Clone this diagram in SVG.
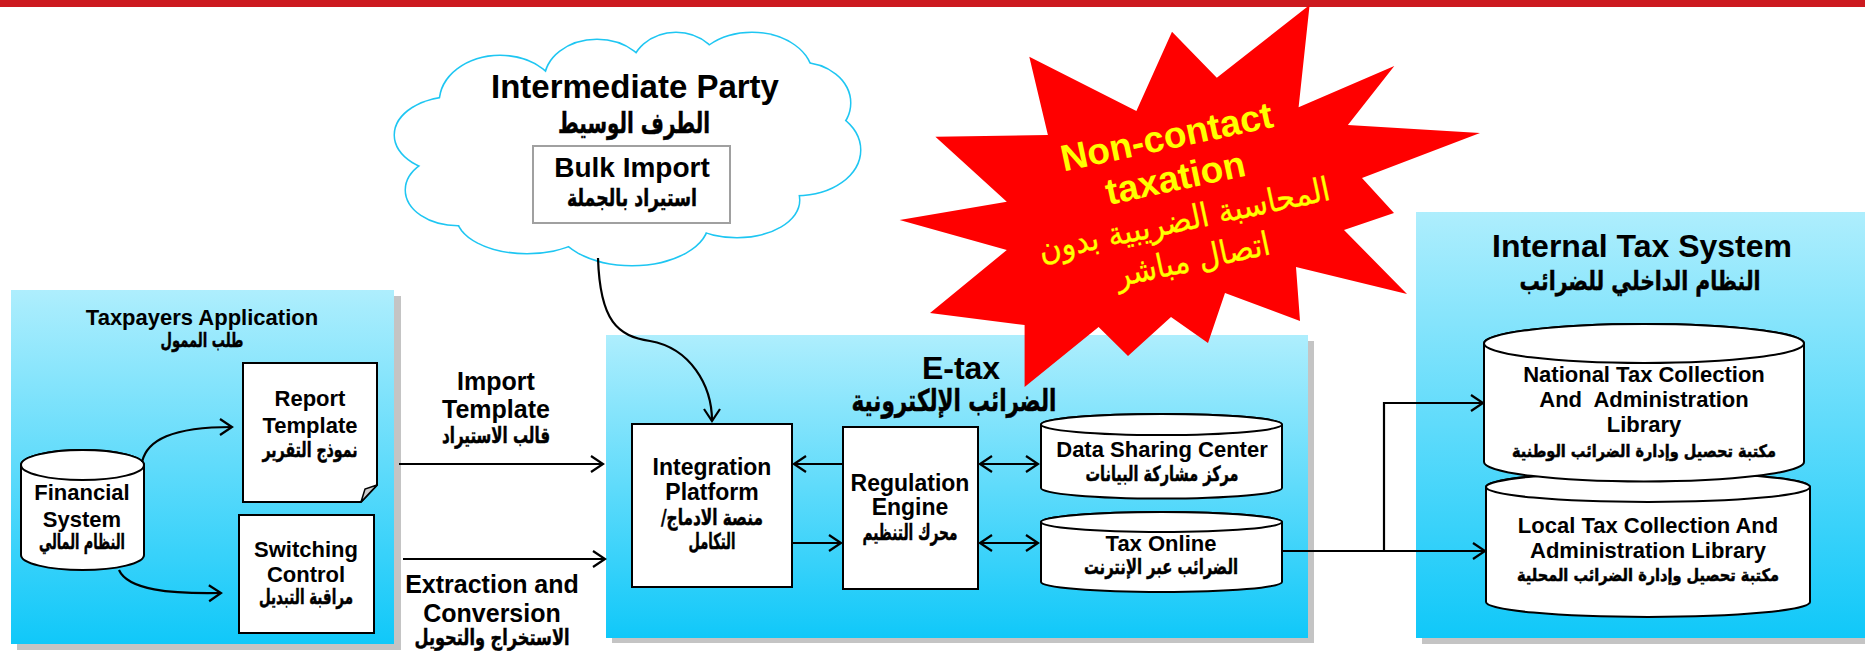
<svg xmlns="http://www.w3.org/2000/svg" width="1865" height="657" viewBox="0 0 1865 657">
<defs>
<linearGradient id="panelGrad" x1="0" y1="0" x2="0" y2="1">
<stop offset="0" stop-color="#AEEEFD"/>
<stop offset="1" stop-color="#10C8F9"/>
</linearGradient>
<marker id="arr" markerUnits="userSpaceOnUse" markerWidth="16" markerHeight="20" viewBox="0 0 16 20" refX="14" refY="10" orient="auto-start-reverse">
<path d="M2,2 L14,10 L2,18" fill="none" stroke="#000" stroke-width="2.2"/>
</marker>
</defs>
<style>
.en{font-family:"Liberation Sans",Arial,sans-serif;font-weight:bold;text-anchor:middle;fill:#000}
.ar{font-family:"DejaVu Sans","Noto Sans",sans-serif;font-weight:bold;text-anchor:middle;fill:#000;stroke:#000;stroke-width:0.5}
.ys{fill:#FFFF00;stroke:#FFFF00;stroke-width:0.3;font-weight:normal}
.panel{fill:url(#panelGrad)}
.shadow{fill:#C4C4C4}
.box{fill:#fff;stroke:#000;stroke-width:2}
.conn{fill:none;stroke:#000;stroke-width:2.2;marker-end:url(#arr)}
.both{marker-start:url(#arr)}
.cl{fill:none;stroke:#1EC6F2;stroke-width:3}
.cf{fill:#fff}
</style>
<rect x="0" y="0" width="1865" height="7" fill="#CC1A1F"/>

<g id="taxpayers">
<rect class="shadow" x="17" y="296" width="384" height="354"/>
<rect class="panel" x="11" y="290" width="383" height="354"/>
<text class="en" x="202" y="325" font-size="22">Taxpayers Application</text>
<text class="ar" x="202" y="347" font-size="20" textLength="83" lengthAdjust="spacingAndGlyphs">طلب الممول</text>
</g>

<g id="report-template">
<path class="box" d="M243,363 H377 V485 L361,502 H243 Z"/>
<path d="M377,485 L365,489 L361,502 Z" fill="#CCCCCC" stroke="#000" stroke-width="1.5"/>
<text class="en" x="310" y="406" font-size="22">Report</text>
<text class="en" x="310" y="433" font-size="22">Template</text>
<text class="ar" x="310" y="457" font-size="21" textLength="95" lengthAdjust="spacingAndGlyphs">نموذج التقرير</text>
</g>

<g id="switching-control">
<rect class="box" x="239" y="515" width="135" height="118"/>
<text class="en" x="306" y="557" font-size="22">Switching</text>
<text class="en" x="306" y="582" font-size="22">Control</text>
<text class="ar" x="306" y="604" font-size="21" textLength="94" lengthAdjust="spacingAndGlyphs">مراقبة التبديل</text>
</g>

<g id="financial-system">
<path class="box" d="M21,465 V555 A61.5,15 0 0 0 144,555 V465 A61.5,15 0 0 0 21,465 Z"/>
<ellipse class="box" cx="82.5" cy="465" rx="61.5" ry="15"/>
<text class="en" x="82" y="500" font-size="22">Financial</text>
<text class="en" x="82" y="527" font-size="22">System</text>
<text class="ar" x="82" y="549" font-size="21" textLength="86" lengthAdjust="spacingAndGlyphs">النظام المالي</text>
</g>

<g id="etax">
<rect class="shadow" x="612" y="341" width="702" height="302"/>
<rect class="panel" x="606" y="335" width="702" height="303"/>
<text class="en" x="961" y="379" font-size="32">E-tax</text>
<text class="ar" x="954" y="411" font-size="30" textLength="205" lengthAdjust="spacingAndGlyphs">الضرائب الإلكترونية</text>
</g>

<g id="internal-tax-system">
<rect class="shadow" x="1422" y="218" width="443" height="426"/>
<rect class="panel" x="1416" y="212" width="449" height="426"/>
<text class="en" x="1642" y="257" font-size="32">Internal Tax System</text>
<text class="ar" x="1640" y="290" font-size="26" textLength="241" lengthAdjust="spacingAndGlyphs">النظام الداخلي للضرائب</text>
</g>

<g id="star">
<polygon fill="#FF0000" points="1309.6,5 1298.6,107.3 1394.3,66 1347.9,125 1480,133 1362,178 1394,213 1344,230 1407,294 1296,267 1300,321 1225,293 1208,343 1171,317 1128,356 1098.6,327 1024.6,387 1024.6,325 930,313 1006.8,250 899.6,220 1006.8,201.7 935.4,136.7 1047.9,135 1029.3,56.7 1136.4,111 1172,31.7 1216.8,77.7"/>
<g transform="translate(1180,200) rotate(-12)">
<text class="en" x="0" y="-52" font-size="37" style="fill:#FFFF00">Non-contact</text>
<text class="en" x="0" y="-10" font-size="37" style="fill:#FFFF00">taxation</text>
<text class="ar ys" x="0" y="31" font-size="33" textLength="297" lengthAdjust="spacingAndGlyphs">المحاسبة الضريبية بدون</text>
<text class="ar ys" x="0" y="72" font-size="33" textLength="157" lengthAdjust="spacingAndGlyphs">اتصال مباشر</text>
</g>
</g>

<g id="intermediate-party">
<ellipse class="cl" cx="455" cy="135" rx="60" ry="38"/>
<ellipse class="cl" cx="458" cy="190" rx="52" ry="35"/>
<ellipse class="cl" cx="527" cy="216" rx="70" ry="37"/>
<ellipse class="cl" cx="632" cy="222" rx="76" ry="43"/>
<ellipse class="cl" cx="737" cy="200" rx="62" ry="37"/>
<ellipse class="cl" cx="797" cy="150" rx="63" ry="45"/>
<ellipse class="cl" cx="800" cy="103" rx="50" ry="40"/>
<ellipse class="cl" cx="752" cy="76" rx="60" ry="43"/>
<ellipse class="cl" cx="676" cy="72" rx="45" ry="39"/>
<ellipse class="cl" cx="597" cy="80" rx="52" ry="40"/>
<ellipse class="cl" cx="500" cy="102" rx="60" ry="46"/>
<ellipse class="cf" cx="455" cy="135" rx="60" ry="38"/>
<ellipse class="cf" cx="458" cy="190" rx="52" ry="35"/>
<ellipse class="cf" cx="527" cy="216" rx="70" ry="37"/>
<ellipse class="cf" cx="632" cy="222" rx="76" ry="43"/>
<ellipse class="cf" cx="737" cy="200" rx="62" ry="37"/>
<ellipse class="cf" cx="797" cy="150" rx="63" ry="45"/>
<ellipse class="cf" cx="800" cy="103" rx="50" ry="40"/>
<ellipse class="cf" cx="752" cy="76" rx="60" ry="43"/>
<ellipse class="cf" cx="676" cy="72" rx="45" ry="39"/>
<ellipse class="cf" cx="597" cy="80" rx="52" ry="40"/>
<ellipse class="cf" cx="500" cy="102" rx="60" ry="46"/>
<ellipse class="cf" cx="630" cy="150" rx="190" ry="80"/>
<text class="en" x="635" y="98" font-size="33">Intermediate Party</text>
<text class="ar" x="634" y="133" font-size="29" textLength="152" lengthAdjust="spacingAndGlyphs">الطرف الوسيط</text>
</g>

<g id="bulk-import">
<rect x="533" y="146" width="197" height="77" fill="#fff" stroke="#A0A0A0" stroke-width="2"/>
<text class="en" x="632" y="177" font-size="28">Bulk Import</text>
<text class="ar" x="632" y="206" font-size="24" textLength="130" lengthAdjust="spacingAndGlyphs">استيراد بالجملة</text>
</g>

<g id="integration-platform">
<rect class="box" x="632" y="424" width="160" height="163"/>
<text class="en" x="712" y="475" font-size="23">Integration</text>
<text class="en" x="712" y="500" font-size="23">Platform</text>
<text class="ar" x="712" y="525" font-size="22" direction="rtl" textLength="102" lengthAdjust="spacingAndGlyphs">منصة الادماج/</text>
<text class="ar" x="712" y="549" font-size="22" textLength="47" lengthAdjust="spacingAndGlyphs">التكامل</text>
</g>

<g id="regulation-engine">
<rect class="box" x="843" y="427" width="135" height="162"/>
<text class="en" x="910" y="491" font-size="23">Regulation</text>
<text class="en" x="910" y="515" font-size="23">Engine</text>
<text class="ar" x="910" y="540" font-size="22" textLength="95" lengthAdjust="spacingAndGlyphs">محرك التنظيم</text>
</g>

<g id="data-sharing-center">
<path class="box" d="M1041,424.5 V488 A120.5,10.5 0 0 0 1282,488 V424.5 A120.5,10.5 0 0 0 1041,424.5 Z"/>
<ellipse class="box" cx="1161.5" cy="424.5" rx="120.5" ry="10.5"/>
<text class="en" x="1162" y="457" font-size="22">Data Sharing Center</text>
<text class="ar" x="1162" y="481" font-size="21" textLength="153" lengthAdjust="spacingAndGlyphs">مركز مشاركة البيانات</text>
</g>

<g id="tax-online">
<path class="box" d="M1041,522 V582 A120.5,10 0 0 0 1282,582 V522 A120.5,10 0 0 0 1041,522 Z"/>
<ellipse class="box" cx="1161.5" cy="522" rx="120.5" ry="10"/>
<text class="en" x="1161" y="551" font-size="22">Tax Online</text>
<text class="ar" x="1161" y="574" font-size="21" textLength="154" lengthAdjust="spacingAndGlyphs">الضرائب عبر الإنترنت</text>
</g>

<g id="local-library">
<path class="box" d="M1486,487 V602 A162,15 0 0 0 1810,602 V487 A162,15 0 0 0 1486,487 Z"/>
<ellipse class="box" cx="1648" cy="487" rx="162" ry="15"/>
<text class="en" x="1648" y="533" font-size="22">Local Tax Collection And</text>
<text class="en" x="1648" y="558" font-size="22">Administration Library</text>
<text class="ar" x="1648" y="581" font-size="17" textLength="262" lengthAdjust="spacingAndGlyphs">مكتبة تحصيل وإدارة الضرائب المحلية</text>
</g>

<g id="national-library">
<path class="box" d="M1484,343.5 V462 A160,19.5 0 0 0 1804,462 V343.5 A160,19.5 0 0 0 1484,343.5 Z"/>
<ellipse class="box" cx="1644" cy="343.5" rx="160" ry="19.5"/>
<text class="en" x="1644" y="382" font-size="22">National Tax Collection</text>
<text class="en" x="1644" y="407" font-size="22" xml:space="preserve">And  Administration</text>
<text class="en" x="1644" y="432" font-size="22">Library</text>
<text class="ar" x="1644" y="457" font-size="17" textLength="264" lengthAdjust="spacingAndGlyphs">مكتبة تحصيل وإدارة الضرائب الوطنية</text>
</g>

<g id="labels">
<text class="en" x="496" y="390" font-size="25">Import</text>
<text class="en" x="496" y="418" font-size="25">Template</text>
<text class="ar" x="496" y="443" font-size="22" textLength="108" lengthAdjust="spacingAndGlyphs">قالب الاستيراد</text>
<text class="en" x="492" y="593" font-size="25">Extraction and</text>
<text class="en" x="492" y="622" font-size="25">Conversion</text>
<text class="ar" x="492" y="645" font-size="22" textLength="155" lengthAdjust="spacingAndGlyphs">الاستخراج والتحويل</text>
</g>

<g id="connectors">
<path class="conn" d="M598,258 C600,322 618,336 650,341 C690,348 712,385 712,421"/>
<path class="conn" d="M142,462 C147,440 172,427 232,427"/>
<path class="conn" d="M119,570 C128,590 170,594 221,593"/>
<path class="conn" d="M399,464 H603"/>
<path class="conn" d="M403,559 H605"/>
<path class="conn" d="M843,464 H794"/>
<path class="conn" d="M792,543 H841"/>
<path class="conn both" d="M980,464 H1038"/>
<path class="conn both" d="M980,543 H1038"/>
<path class="conn" d="M1282,551 H1485"/>
<path class="conn" d="M1384,551 V403 H1483"/>
</g>
</svg>
